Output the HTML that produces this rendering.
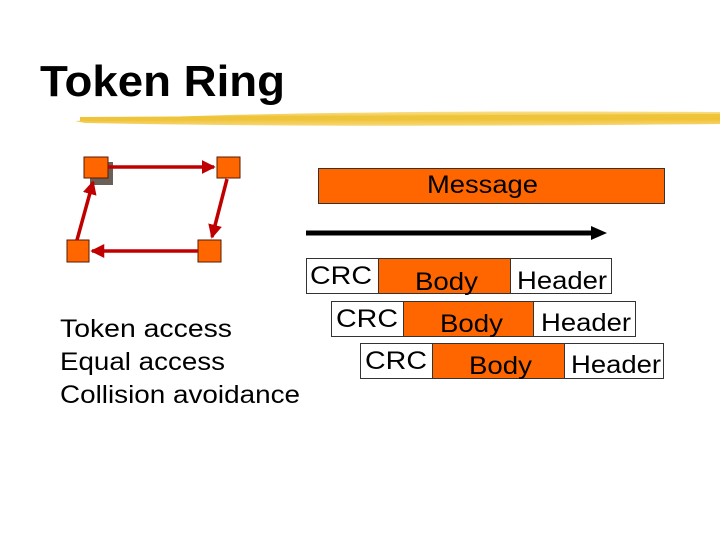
<!DOCTYPE html>
<html><head><meta charset="utf-8"><style>
html,body{margin:0;padding:0;background:#fff}
svg{display:block}
text{font-family:"Liberation Sans",Arial,sans-serif}
</style></head><body>
<svg width="720" height="540" viewBox="0 0 720 540" xmlns="http://www.w3.org/2000/svg">
<defs>
<linearGradient id="br" x1="0" y1="0" x2="0" y2="1">
<stop offset="0" stop-color="#f8e08a"/><stop offset="0.5" stop-color="#f0c030"/><stop offset="1" stop-color="#f6d878"/>
</linearGradient>
<marker id="ar" markerWidth="4" markerHeight="4" refX="3.5" refY="2" orient="auto" markerUnits="strokeWidth">
<path d="M0,0 L4,2 L0,4 Z" fill="#c00000"/></marker>
</defs>
<text x="40" y="96" font-size="44" font-weight="bold" fill="#000" textLength="245" lengthAdjust="spacingAndGlyphs">Token Ring</text>
<path d="M75,121 C200,114 400,110 720,112 L720,124 C500,126 300,127 85,123 Z" fill="url(#br)"/>
<path d="M80,119 L720,116" stroke="#eec43a" stroke-width="4" fill="none"/>
<rect x="90" y="162" width="23" height="23" fill="#6b6058"/>
<rect x="84" y="157" width="24" height="21" fill="#ff6600" stroke="#5a1a00" stroke-width="1"/>
<rect x="217" y="157" width="23" height="21" fill="#ff6600" stroke="#5a1a00" stroke-width="1"/>
<rect x="67" y="240" width="22" height="22" fill="#ff6600" stroke="#5a1a00" stroke-width="1"/>
<rect x="198" y="240" width="23" height="22" fill="#ff6600" stroke="#5a1a00" stroke-width="1"/>
<g stroke="#c00000" stroke-width="3.5" fill="none" marker-end="url(#ar)">
<line x1="108" y1="167" x2="214" y2="167"/>
<line x1="227" y1="179" x2="212" y2="237"/>
<line x1="198" y1="251" x2="92" y2="251"/>
<line x1="77" y1="240" x2="93" y2="182"/>
</g>
<g font-size="25" lengthAdjust="spacingAndGlyphs">
<text x="60" y="337" textLength="172" lengthAdjust="spacingAndGlyphs">Token access</text>
<text x="60" y="370" textLength="165" lengthAdjust="spacingAndGlyphs">Equal access</text>
<text x="60" y="403" textLength="240" lengthAdjust="spacingAndGlyphs">Collision avoidance</text>
</g>
<rect x="318.5" y="168.5" width="346" height="35" fill="#ff6600" stroke="#333" stroke-width="1"/>
<text x="427" y="193" font-size="25" textLength="111" lengthAdjust="spacingAndGlyphs">Message</text>
<line x1="306" y1="233" x2="596" y2="233" stroke="#000" stroke-width="5"/>
<path d="M591,226 L607,233 L591,240 Z" fill="#000"/>
<g stroke="#333" stroke-width="1">
<rect x="306.5" y="258.5" width="72" height="35" fill="#fff"/>
<rect x="378.5" y="258.5" width="132" height="35" fill="#ff6600"/>
<rect x="510.5" y="258.5" width="101" height="35" fill="#fff"/>
<rect x="331.5" y="301.5" width="72" height="35" fill="#fff"/>
<rect x="403.5" y="301.5" width="130" height="35" fill="#ff6600"/>
<rect x="533.5" y="301.5" width="102" height="35" fill="#fff"/>
<rect x="360.5" y="343.5" width="72" height="35" fill="#fff"/>
<rect x="432.5" y="343.5" width="132" height="35" fill="#ff6600"/>
<rect x="564.5" y="343.5" width="99" height="35" fill="#fff"/>
</g>
<g font-size="25">
<text x="310" y="284" textLength="62" lengthAdjust="spacingAndGlyphs">CRC</text>
<text x="415" y="290" textLength="63" lengthAdjust="spacingAndGlyphs">Body</text>
<text x="517" y="289" textLength="90" lengthAdjust="spacingAndGlyphs">Header</text>
<text x="336" y="327" textLength="62" lengthAdjust="spacingAndGlyphs">CRC</text>
<text x="440" y="332" textLength="63" lengthAdjust="spacingAndGlyphs">Body</text>
<text x="541" y="331" textLength="90" lengthAdjust="spacingAndGlyphs">Header</text>
<text x="365" y="369" textLength="62" lengthAdjust="spacingAndGlyphs">CRC</text>
<text x="469" y="374" textLength="63" lengthAdjust="spacingAndGlyphs">Body</text>
<text x="571" y="373" textLength="90" lengthAdjust="spacingAndGlyphs">Header</text>
</g>
</svg>
</body></html>
